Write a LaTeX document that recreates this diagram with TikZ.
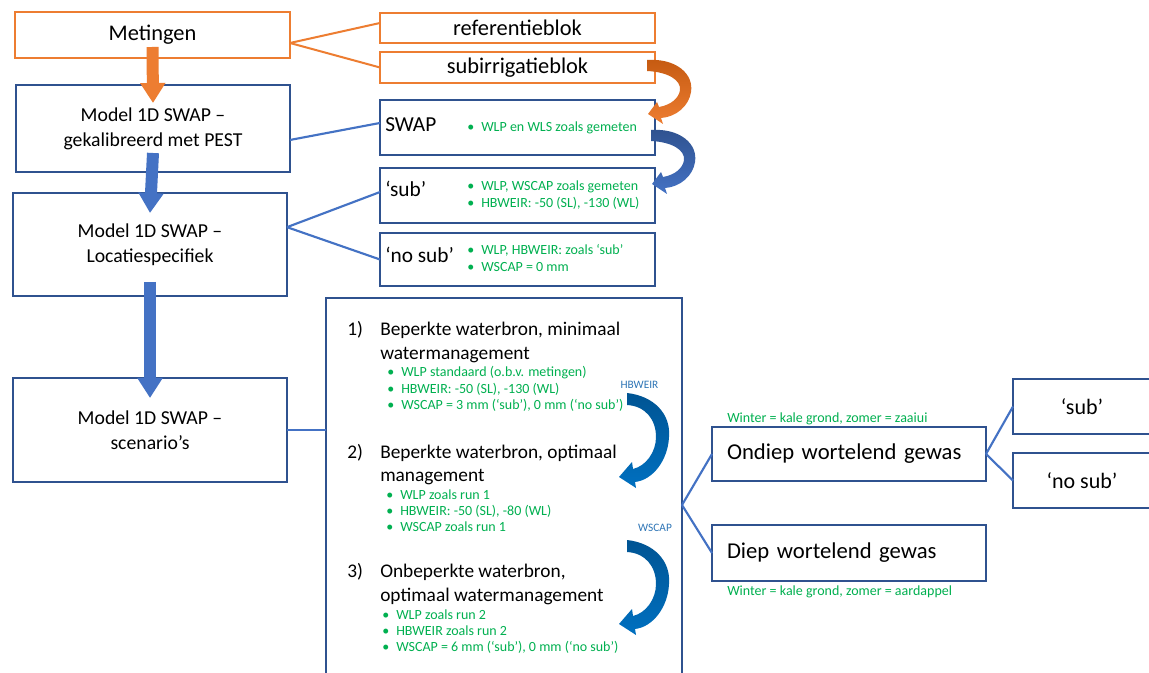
\documentclass[tikz,border=0pt]{standalone}
\usepackage{fontspec}
\setmainfont{Carlito}
\usetikzlibrary{arrows.meta}

\definecolor{mOrange}{RGB}{237,125,49}
\definecolor{mOrangeDark}{RGB}{197,90,17}
\definecolor{mBlue}{RGB}{47,82,143}
\definecolor{mLine}{RGB}{68,114,196}
\definecolor{mGreen}{RGB}{0,176,80}
\definecolor{mSky}{RGB}{0,112,192}
\definecolor{mSkyDark}{RGB}{0,84,147}
\definecolor{mTag}{RGB}{46,117,182}

\newcommand{\bul}{\makebox[10.5pt][l]{\textbullet}}
\newcommand{\rows}[1]{\begin{tabular}[t]{@{}l@{}}#1\end{tabular}}

\tikzset{
  wh/.style 2 args={minimum width=#1*0.75pt, minimum height=#2*0.75pt},
}

\begin{document}
\begin{tikzpicture}[x=0.75pt,y=0.75pt,yscale=-1,xscale=1,
  box/.style={draw=mBlue, line width=1.8pt, inner sep=0pt, outer sep=0pt, align=center, font=\fontsize{14.8}{18.75}\selectfont},
  obox/.style={box, draw=mOrange, line width=1.5pt, font=\fontsize{16.8}{20}\selectfont},
  lbox/.style={box, align=left, inner xsep=11.25pt, text width=183pt, font=\fontsize{17}{20}\selectfont},
  txt/.style={inner sep=0pt, anchor=base west},
  lbl/.style={txt, font=\fontsize{16}{19}\selectfont},
  hd/.style={txt, font=\fontsize{14.5}{17.8}\selectfont},
  note/.style={txt, text=mGreen, font=\fontsize{10.5}{12.2}\selectfont},
  tag/.style={inner sep=0pt, text=mTag, font=\fontsize{8.5}{10}\selectfont},
  oline/.style={draw=mOrange, line width=1.5pt},
  bline/.style={draw=mLine, line width=1.6pt},
  fat/.style={line width=9pt, -{Triangle[width=18pt,length=15pt]}},
]
\useasboundingbox (0,0) rectangle (1149,673);
\path[fill=white] (0,0) rectangle (1149,673);

% Left column
\node[obox, wh={275}{46}] (metingen) at (152.5,35) {Metingen};
\node[box, wh={274}{87}] (pest) at (153,128.5) {Model 1D SWAP –\\gekalibreerd met PEST};
\node[box, wh={274}{103}] (loc) at (150,244.5) {Model 1D SWAP –\\Locatiespecifiek};
\node[box, wh={274}{104}] (scen) at (150,430) {Model 1D SWAP –\\scenario’s};

% Blocks and runs
\node[obox, wh={275}{30}] (refblok) at (517.5,28) {referentieblok};
\node[obox, wh={275}{31}] (subblok) at (517.5,67.5) {subirrigatieblok};

\node[box, wh={275}{55}] (swap) at (517.5,127.5) {};
\node[lbl] (swaplbl) at (385,132) {SWAP};
\node[note] (swapnote) at (467,132) {\bul WLP en WLS zoals gemeten};

\node[box, wh={275}{55}] (sub) at (517.5,195.5) {};
\node[lbl] (sublbl) at (385,197) {‘sub’};
\node[note] (subnote) at (467,191) {\rows{\bul WLP, WSCAP zoals gemeten\\\bul HBWEIR: -50 (SL), -130 (WL)}};

\node[box, wh={275}{53}] (nosub) at (517.5,259.5) {};
\node[lbl] (nosublbl) at (385,263) {‘no sub’};
\node[note] (nosubnote) at (467,255) {\rows{\bul WLP, HBWEIR: zoals ‘sub’\\\bul WSCAP = 0 mm}};

% Scenarios
\node[box, wh={356}{414}] (big) at (504,505) {};
\node[hd] (n1) at (347,335.5) {1)};
\node[hd] (h1) at (380,335.5) {\rows{Beperkte waterbron, minimaal\\watermanagement}};
\node[note] (b1) at (387,377) {\rows{\bul WLP standaard (o.b.v. metingen)\\\bul HBWEIR: -50 (SL), -130 (WL)\\\bul WSCAP = 3 mm (‘sub’), 0 mm (‘no sub’)}};
\node[hd] (n2) at (347,458) {2)};
\node[hd] (h2) at (380,458) {\rows{Beperkte waterbron, optimaal\\management}};
\node[note] (b2) at (386,499.3) {\rows{\bul WLP zoals run 1\\\bul HBWEIR: -50 (SL), -80 (WL)\\\bul WSCAP zoals run 1}};
\node[hd] (n3) at (347,577.3) {3)};
\node[hd] (h3) at (380,577.3) {\rows{Onbeperkte waterbron,\\optimaal watermanagement}};
\node[note] (b3) at (382,619.3) {\rows{\bul WLP zoals run 2\\\bul HBWEIR zoals run 2\\\bul WSCAP = 6 mm (‘sub’), 0 mm (‘no sub’)}};
\node[tag] (hbweir) at (639.5,385) {HBWEIR};
\node[tag] (wscap) at (655,528) {WSCAP};

% Crops
\node[lbox, wh={274}{54}] (ondiep) at (849,454) {Ondiep wortelend gewas};
\node[lbox, wh={274}{56}] (diep) at (849,553) {Diep wortelend gewas};
\node[note] (ondiepnote) at (727,422) {Winter = kale grond, zomer = zaaiui};
\node[note] (diepnote) at (727,595) {Winter = kale grond, zomer = aardappel};
\node[box, wh={138}{55}, font=\fontsize{16.5}{20}\selectfont] (rsub) at (1082,406.5) {‘sub’};
\node[box, wh={138}{55}, font=\fontsize{16.5}{20}\selectfont] (rnosub) at (1082,480.5) {‘no sub’};

%Straight Lines (yshift runs downwards here, as yscale=-1)
\draw[oline] ([yshift=6pt]metingen.east) -- ([yshift=-3.75pt]refblok.west);
\draw[oline] ([yshift=6pt]metingen.east) -- (subblok.west);
\draw[bline] ([yshift=8.6pt]pest.east) -- ([yshift=-3.4pt]swap.west);
\draw[bline] ([yshift=-13pt]loc.east) -- ([yshift=-2.6pt]sub.west);
\draw[bline] ([yshift=-13pt]loc.east) -- (nosub.west);
\draw[bline] (scen.east) -- (scen.east -| big.west);
\draw[bline] (big.east) -- (ondiep.west);
\draw[bline] (big.east) -- (diep.west);
\draw[bline] (ondiep.east) -- (rsub.west);
\draw[bline] (ondiep.east) -- (rnosub.west);

%Block Arrows
\draw[fat, mOrange] ([yshift=9pt]metingen.center) -- ([yshift=13.5pt]pest.north);
\draw[fat, mLine] ([yshift=-14.25pt]pest.south) -- ([yshift=15pt]loc.north);
\draw[fat, mLine] ([yshift=-10.5pt]loc.south) -- ([yshift=15pt]scen.north);

%Shape: Curved Arrow
\begin{scope}[shift={(647,60)}]
\path[top color=mOrangeDark, bottom color=mOrange] (0,0) .. controls (29,-2) and (47,14) .. (44,32) .. controls (42,46) and (29,57) .. (14,58) -- (16,64) -- (1,54) -- (10,42) -- (12,47) .. controls (24,45) and (32,38) .. (33,30) .. controls (34,20) and (21,12) .. (0,11) -- cycle;
\end{scope}
%Shape: Curved Arrow
\begin{scope}[shift={(651,130)}]
\path[top color=mBlue, bottom color=mLine] (0,0) .. controls (29,-2) and (47,14) .. (44,32) .. controls (42,46) and (29,57) .. (14,58) -- (16,64) -- (1,54) -- (10,42) -- (12,47) .. controls (24,45) and (32,38) .. (33,30) .. controls (34,20) and (21,12) .. (0,11) -- cycle;
\end{scope}
%Shape: Curved Arrow
\begin{scope}[shift={(627,393)}]
\path[top color=mSkyDark, bottom color=mSky] (0,0) .. controls (27,3) and (44,21) .. (42,44) .. controls (41,67) and (26,87) .. (8,89) -- (9,95) -- (-8,84) -- (5,69) -- (6,76) .. controls (19,73) and (29,59) .. (29,44) .. controls (29,26) and (18,13) .. (0,12) -- cycle;
\end{scope}
%Shape: Curved Arrow
\begin{scope}[shift={(627,540)}]
\path[top color=mSkyDark, bottom color=mSky] (0,0) .. controls (27,3) and (44,21) .. (42,44) .. controls (41,67) and (26,87) .. (8,89) -- (9,95) -- (-8,84) -- (5,69) -- (6,76) .. controls (19,73) and (29,59) .. (29,44) .. controls (29,26) and (18,13) .. (0,12) -- cycle;
\end{scope}
\end{tikzpicture}
\end{document}
